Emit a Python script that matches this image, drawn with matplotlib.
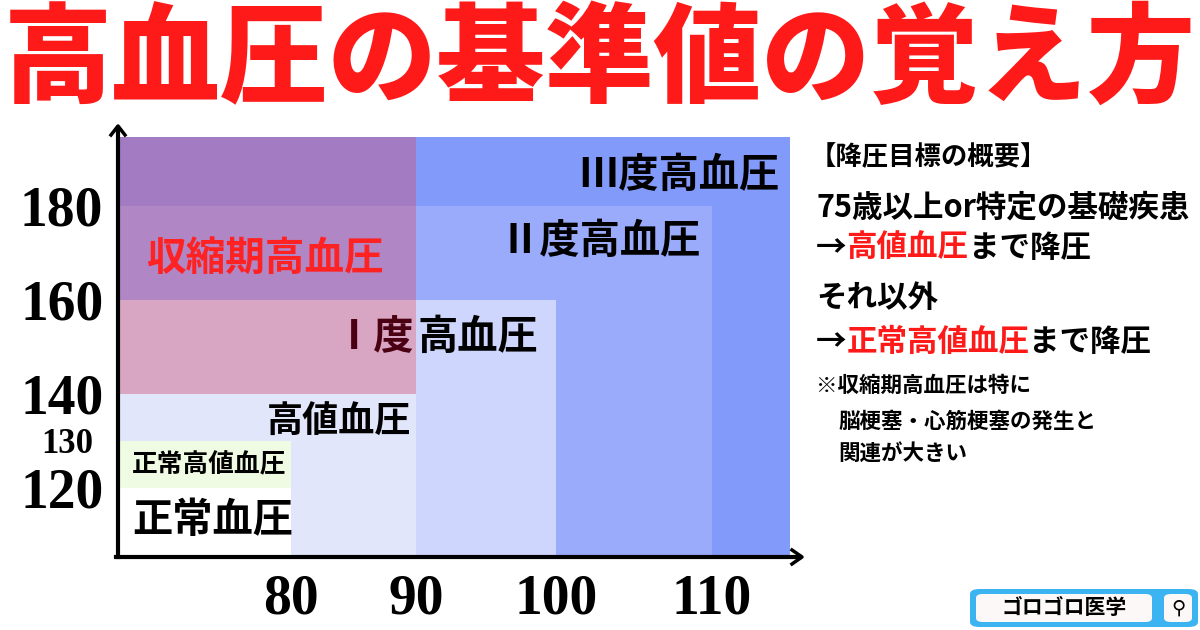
import numpy as np
import matplotlib
matplotlib.use("Agg")
import matplotlib.pyplot as plt
from matplotlib.patches import Rectangle, FancyBboxPatch

plt.rcParams['font.family'] = ['Noto Sans CJK JP', 'DejaVu Sans']

# ---- data ----
x_ticks = [80, 90, 100, 110]
y_ticks = [120, 130, 140, 160, 180]
y_tick_sizes = [40, 25, 40, 40, 40]
# categories: (label, diastolic upper, systolic lower, systolic upper, color)
zones = [
    ("Ⅲ度高血圧", 115, 105.3, 194.6, "#829af9"),
    ("Ⅱ度高血圧", 110, 105.3, 180, "#9aabfc"),
    ("Ⅰ度高血圧", 100, 105.3, 160, "#cfd6fd"),
    ("高値血圧", 90, 105.3, 140, "#e1e6fb"),
    ("正常血圧", 80, 105.3, 130, "#ffffff"),
    ("正常高値血圧", 80, 120, 130, "#effbe3"),
]
systolic_bands = [(140, 160, "#d8a6c3"), (160, 180, "#b087c4"), (180, 194.6, "#a37bc2")]
x_min = 66

xd = [66, 80, 90, 100, 110, 115]
xp = [120, 291, 416, 556, 712, 790]
fwd = lambda v: np.interp(v, xd, xp)
inv = lambda p: np.interp(p, xp, xd)

W, H = 1200, 630
fig = plt.figure(figsize=(12, 6.3), dpi=100)
def fx(x): return x / W
def fy(y): return 1 - y / H

ax = fig.add_axes([fx(120), fy(557), 670 / W, 420 / H])
ax.set_xscale('function', functions=(fwd, inv))
ax.set_xlim(66, 115)
ax.set_ylim(105.3, 194.6)
for s in ax.spines.values():
    s.set_visible(False)

for name, xr, y0, y1, c in zones:
    ax.add_patch(Rectangle((x_min, y0), xr - x_min, y1 - y0, color=c, lw=0, zorder=1))
for y0, y1, c in systolic_bands:
    ax.add_patch(Rectangle((x_min, y0), 90 - x_min, y1 - y0, color=c, lw=0, zorder=2))

ax.set_xticks(x_ticks)
ax.set_xticklabels([str(v) for v in x_ticks], family='Liberation Serif',
                   fontweight='bold', fontsize=40)
ax.set_yticks(y_ticks)
ax.set_yticklabels([str(v) for v in y_ticks], family='Liberation Serif', fontweight='bold')
for lab, sz in zip(ax.get_yticklabels(), y_tick_sizes):
    lab.set_fontsize(sz)
ax.tick_params(length=0, pad=12)
ax.tick_params(axis='x', pad=12)
ax.get_yticklabels()[1].set_x(-0.015)

# axes arrows
fig.add_artist(plt.Line2D([fx(118), fx(118)], [fy(557), fy(128)], color='black', lw=3))
fig.add_artist(plt.Line2D([fx(116), fx(800)], [fy(557), fy(557)], color='black', lw=3))
fig.add_artist(plt.Line2D([fx(111), fx(118), fx(125)], [fy(135), fy(126), fy(135)], color='black', lw=2.5))
fig.add_artist(plt.Line2D([fx(792), fx(802), fx(792)], [fy(550), fy(557), fy(564)], color='black', lw=2.5))

# zone labels
jp = dict(fontweight='bold', zorder=5)
ax.text(114.3, 186.5, "Ⅲ度高血圧", ha='right', va='center', fontsize=29, **jp)
ax.text(109.3, 172.5, "Ⅱ度高血圧", ha='right', va='center', fontsize=29, **jp)
ax.text(89.9, 152.0, "Ⅰ度", ha='right', va='center', fontsize=29, color='#4a0012', **jp)
ax.text(90.1, 152.0, "高血圧", ha='left', va='center', fontsize=29, **jp)
ax.text(89.6, 134.0, "高値血圧", ha='right', va='center', fontsize=26, **jp)
ax.text(67, 124.8, "正常高値血圧", ha='left', va='center', fontsize=18.5, **jp)
ax.text(67, 113, "正常血圧", ha='left', va='center', fontsize=29, **jp)
ax.text(68.1, 168.8, "収縮期高血圧", ha='left', va='center', fontsize=28.5, color='#ff2222', **jp)

# title
fig.text(fx(600), fy(62), "高血圧の基準値の覚え方", ha='center', va='center',
         fontsize=78, fontweight='heavy', color='#ff1a1a')

# right panel
renderer = fig.canvas.get_renderer()
def seq(x, y, parts, size):
    for t, c in parts:
        tx = fig.text(fx(x), fy(y), t, ha='left', va='center', fontsize=size,
                      fontweight='bold', color=c)
        bb = tx.get_window_extent(renderer)
        x += bb.width
seq(810, 158, [("【降圧目標の概要】", 'black')], 19)
seq(816, 208, [("75歳以上or特定の基礎疾患", 'black')], 22)
seq(816, 248, [("→", 'black'), ("高値血圧", '#ff1a1a'), ("まで降圧", 'black')], 22)
seq(816, 298, [("それ以外", 'black')], 22)
seq(816, 342, [("→", 'black'), ("正常高値血圧", '#ff1a1a'), ("まで降圧", 'black')], 22)
seq(816, 385, [("※収縮期高血圧は特に", 'black')], 15.5)
seq(838, 421, [("脳梗塞・心筋梗塞の発生と", 'black')], 15.5)
seq(838, 453, [("関連が大きい", 'black')], 15.5)

# logo
fig.add_artist(FancyBboxPatch((fx(970), fy(627)), 228 / W, 38 / H,
               boxstyle="round,pad=0,rounding_size=0.008", fc='#3cb4f2', ec='none'))
fig.add_artist(FancyBboxPatch((fx(976), fy(622)), 176 / W, 28 / H,
               boxstyle="round,pad=0,rounding_size=0.006", fc='#fdf8f8', ec='none'))
fig.add_artist(FancyBboxPatch((fx(1164), fy(622)), 28 / W, 28 / H,
               boxstyle="round,pad=0,rounding_size=0.006", fc='#fdf8f8', ec='none'))
fig.text(fx(1064), fy(608), "ゴロゴロ医学", ha='center', va='center', fontsize=15, fontweight='bold')
fig.text(fx(1178), fy(608), "⚲", ha='center', va='center', fontsize=14, family='DejaVu Sans')

fig.savefig("out.png", dpi=100, facecolor='white')
